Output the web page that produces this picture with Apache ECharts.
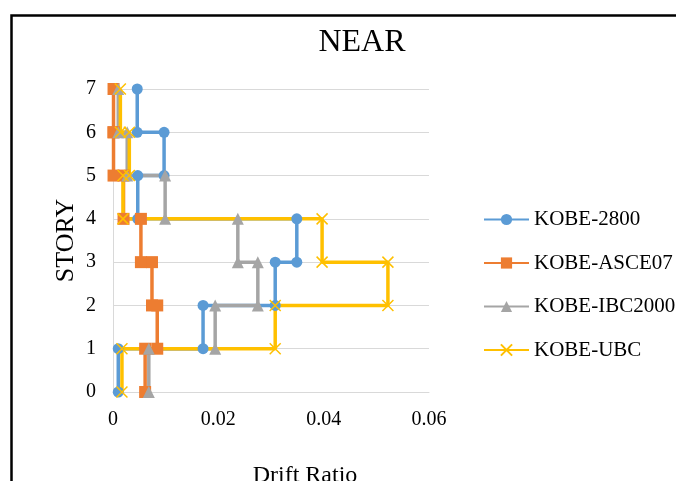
<!DOCTYPE html>
<html>
<head>
<meta charset="utf-8">
<script src="https://cdn.jsdelivr.net/npm/echarts@6/dist/echarts.min.js"></script>
<style>html,body{margin:0;padding:0;background:#fff}#c{width:676px;height:481px}</style>
</head>
<body>
<div id="c"></div>
<script>
// Story levels and inter-story drift per story (story i-1 -> i)
const stories = [0, 1, 2, 3, 4, 5, 6, 7];
const seriesNames = ['KOBE-2800', 'KOBE-ASCE07', 'KOBE-IBC2000', 'KOBE-UBC'];
const drift2800   = [0.0010, 0.0171, 0.0308, 0.0349, 0.0047, 0.0097, 0.0046];
const driftASCE07 = [0.0061, 0.0084, 0.0074, 0.0053, 0.0020, 0.0001, 0.0001];
const driftIBC2000= [0.0068, 0.0194, 0.0275, 0.0237, 0.0099, 0.0027, 0.0010];
const driftUBC    = [0.0017, 0.0308, 0.0522, 0.0397, 0.0019, 0.0031, 0.0014];
const xTicks = [0, 0.02, 0.04, 0.06];

function steps(d) {
  const pts = [];
  for (let i = 0; i < d.length; i++) {
    pts.push([d[i], stories[i]]);
    pts.push([d[i], stories[i + 1]]);
  }
  return pts;
}

const serif = 'Liberation Serif';
const colors = ['#5B9BD5', '#ED7D31', '#A5A5A5', '#FFC000'];
const chart = echarts.init(document.getElementById('c'));
const xPath = 'path://M0,0 L10,10 M10,0 L0,10';

chart.setOption({
  animation: false,
  color: colors,
  title: {
    text: 'NEAR', left: 357, top: 22, textAlign: 'center',
    textStyle: { fontFamily: serif, fontWeight: 'normal', fontSize: 32, color: '#000' }
  },
  graphic: [{
    type: 'rect', left: 9, top: 13,
    shape: { width: 720, height: 520 },
    style: { fill: 'none', stroke: '#000', lineWidth: 2.5 }
  }],
  legend: {
    orient: 'vertical', left: 483, top: 209, padding: 0,
    itemWidth: 45, itemHeight: 14, itemGap: 22.5,
    textStyle: { fontFamily: serif, fontSize: 21, color: '#000', lineHeight: 21 },
    data: seriesNames
  },
  grid: { left: 113, right: 247, top: 89, bottom: 89, containLabel: false, outerBoundsMode: 'none' },
  xAxis: {
    type: 'value', min: 0, max: 0.06, interval: 0.02,
    name: 'Drift Ratio', nameLocation: 'middle', nameGap: 72,
    nameTextStyle: { fontFamily: serif, fontSize: 24, color: '#000', padding: [0, 0, 0, 68] },
    axisLine: { show: true, onZero: false, lineStyle: { color: '#D9D9D9', width: 1 } },
    axisTick: { show: false },
    splitLine: { show: false },
    axisLabel: {
      fontFamily: serif, fontSize: 20, color: '#000', margin: 18,
      formatter: v => { const t = xTicks.find(k => Math.abs(k - v) < 1e-9); return t === undefined ? '' : String(t); }
    }
  },
  yAxis: {
    type: 'value', min: 0, max: 7, interval: 1,
    name: 'STORY', nameLocation: 'middle', nameGap: 34, nameRotate: 90,
    nameTextStyle: { fontFamily: serif, fontSize: 26, color: '#000' },
    axisLine: { show: true, lineStyle: { color: '#D9D9D9', width: 1 } },
    axisTick: { show: false },
    splitLine: { show: true, lineStyle: { color: '#D9D9D9', width: 1 } },
    axisLabel: { fontFamily: serif, fontSize: 20, color: '#000', margin: 17 }
  },
  series: [
    { name: seriesNames[0], type: 'line', data: steps(drift2800), symbol: 'circle', symbolSize: 11,
      lineStyle: { width: 3.5 }, itemStyle: { color: colors[0] } },
    { name: seriesNames[1], type: 'line', data: steps(driftASCE07), symbol: 'rect', symbolSize: 12,
      lineStyle: { width: 3.5 }, itemStyle: { color: colors[1] } },
    { name: seriesNames[2], type: 'line', data: steps(driftIBC2000), symbol: 'triangle', symbolSize: 12,
      lineStyle: { width: 3.5 }, itemStyle: { color: colors[2] } },
    { name: seriesNames[3], type: 'line', data: steps(driftUBC), symbol: xPath, symbolSize: 11,
      lineStyle: { width: 3.5 }, itemStyle: { color: colors[3], borderColor: colors[3], borderWidth: 1.5 } }
  ]
});
</script>
</body>
</html>
